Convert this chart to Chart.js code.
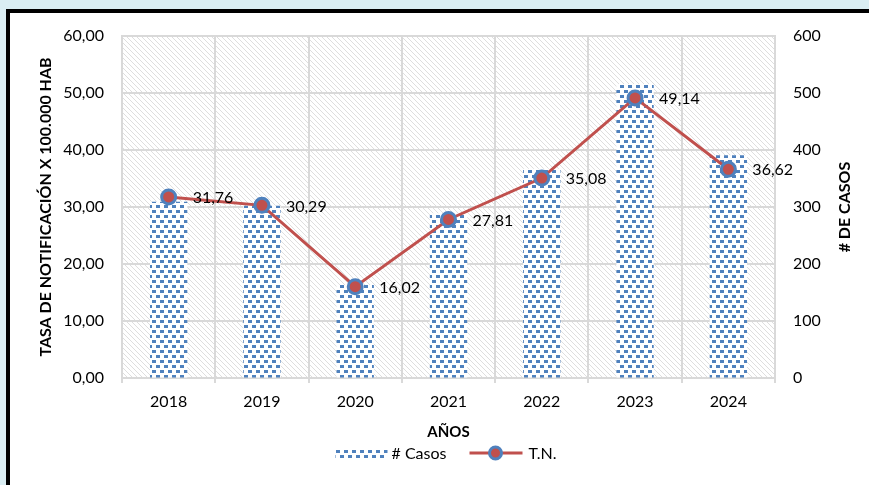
<!DOCTYPE html>
<html>
<head>
<meta charset="utf-8">
<script src="https://cdn.jsdelivr.net/npm/chart.js@4.4.0/dist/chart.umd.min.js"></script>
<style>
  html, body { margin: 0; padding: 0; width: 869px; height: 485px; overflow: hidden; background: #DAEEF3; }
  #frame { position: absolute; left: 6px; top: 9px; width: 900px; height: 520px; border: 4px solid #000; background: #fff; }
  canvas { position: absolute; left: 0; top: 0; }
</style>
</head>
<body>
<div id="frame"></div>
<canvas id="chart" width="869" height="485"></canvas>
<script>
// Data
const years = ['2018', '2019', '2020', '2021', '2022', '2023', '2024']
const casos = [309, 302, 163, 289, 367, 516, 391]
const tasa = [31.76, 30.29, 16.02, 27.81, 35.08, 49.14, 36.62]
const tasaTicks = [0, 10, 20, 30, 40, 50, 60]
const casosTicks = [0, 100, 200, 300, 400, 500, 600]

const BLUE = '#4F81BD'
const RED = '#C0504D'
const GRID = '#D9D9D9'
const FONT = 'Lato, "Open Sans", sans-serif'

// Excel-like fill patterns
function makeTile(w, h, draw) {
    const c = document.createElement('canvas')
    c.width = w
    c.height = h
    draw(c.getContext('2d'))
    return c
}

const hatchTile = makeTile(5, 5, g => {
    g.fillStyle = '#fff'
    g.fillRect(0, 0, 5, 5)
    g.fillStyle = '#DEDEDE'
    for (let i = 0; i < 5; i++) g.fillRect(i, i, 1, 1)
})

const dotsTile = makeTile(8, 10, g => {
    g.fillStyle = '#fff'
    g.fillRect(0, 0, 8, 10)
    g.fillStyle = BLUE
    g.fillRect(0, 0, 4, 3)
    g.fillRect(4, 5, 4, 3)
})

const ctx = document.getElementById('chart').getContext('2d')
const hatch = ctx.createPattern(hatchTile, 'repeat')
const dots = ctx.createPattern(dotsTile, 'repeat')

const fmt2 = v => v.toFixed(2).replace('.', ',')

new Chart(ctx, {
    data: {
        labels: years,
        datasets: [{
                type: 'line',
                label: 'T.N.',
                data: tasa,
                yAxisID: 'y',
                order: 0,
                borderColor: RED,
                borderWidth: 3,
                pointRadius: 7,
                pointHoverRadius: 7,
                pointBackgroundColor: RED,
                pointBorderColor: BLUE,
                pointBorderWidth: 3,
                tension: 0
            },
            {
                type: 'bar',
                label: '# Casos',
                data: casos,
                yAxisID: 'y1',
                order: 1,
                backgroundColor: dots,
                borderWidth: 0,
                categoryPercentage: 1,
                barPercentage: 0.4
            }
        ]
    },
    options: {
        responsive: false,
        animation: false,
        layout: { padding: { top: 36, left: 0, right: 0, bottom: 37 } },
        plugins: {
            legend: { display: false },
            tooltip: { enabled: false }
        },
        scales: {
            x: {
                grid: { color: GRID, lineWidth: 2, drawTicks: true, tickLength: 5, tickColor: GRID },
                border: { color: GRID, width: 2 },
                ticks: { color: '#000', font: { family: FONT, size: 16 }, padding: 9 },
                title: { display: true, text: 'AÑOS', color: '#000', font: { family: FONT, size: 15, weight: 'bold' }, padding: { top: 0, bottom: 7 } },
                afterFit: s => { s.height = 70 }
            },
            y: {
                position: 'left',
                min: 0,
                max: 60,
                afterBuildTicks: s => { s.ticks = tasaTicks.map(v => ({ value: v })) },
                grid: { color: GRID, lineWidth: 2, drawTicks: false },
                border: { color: GRID, width: 2 },
                ticks: { color: '#000', font: { family: FONT, size: 16 }, padding: 18, callback: v => fmt2(v) },
                title: { display: true, text: 'TASA DE NOTIFICACIÓN X 100.000 HAB', color: '#000', font: { family: FONT, size: 16, weight: 'bold' }, padding: { top: 36, bottom: 0 } },
                afterFit: s => { s.width = 122 }
            },
            y1: {
                position: 'right',
                min: 0,
                max: 600,
                afterBuildTicks: s => { s.ticks = casosTicks.map(v => ({ value: v })) },
                grid: { drawOnChartArea: false, drawTicks: false },
                border: { color: GRID, width: 2 },
                ticks: { color: '#000', font: { family: FONT, size: 16 }, padding: 18 },
                afterFit: s => { s.width = 94 }
            }
        }
    },
    plugins: [{
            id: 'plotHatch',
            beforeDraw(chart) {
                const { ctx, chartArea: a } = chart
                ctx.save()
                ctx.fillStyle = hatch
                ctx.fillRect(a.left, a.top, a.right - a.left, a.bottom - a.top)
                ctx.restore()
            }
        },
        {
            id: 'valueLabels',
            afterDatasetsDraw(chart) {
                const { ctx } = chart
                const meta = chart.getDatasetMeta(0)
                ctx.save()
                ctx.fillStyle = '#000'
                ctx.font = `16px ${FONT}`
                ctx.textAlign = 'left'
                ctx.textBaseline = 'middle'
                meta.data.forEach((pt, i) => {
                    ctx.fillText(fmt2(tasa[i]), pt.x + 24, pt.y + 1)
                })
                ctx.restore()
            }
        },
        {
            id: 'rightTitleAndLegend',
            afterDraw(chart) {
                const { ctx, chartArea: a } = chart
                ctx.save()
                // right axis title, reading bottom to top
                ctx.fillStyle = '#000'
                ctx.font = `bold 16px ${FONT}`
                ctx.textAlign = 'center'
                ctx.textBaseline = 'middle'
                ctx.translate(845, (a.top + a.bottom) / 2)
                ctx.rotate(-Math.PI / 2)
                ctx.fillText('# DE CASOS', 0, 0)
                ctx.restore()

                // legend
                const cx = (a.left + a.right) / 2
                const y = 453
                ctx.save()
                ctx.fillStyle = dots
                ctx.fillRect(cx - 113, y - 5, 52, 10)
                ctx.fillStyle = '#000'
                ctx.font = `16px ${FONT}`
                ctx.textBaseline = 'middle'
                ctx.textAlign = 'left'
                ctx.fillText('# Casos', cx - 57, y + 1)
                ctx.strokeStyle = RED
                ctx.lineWidth = 3
                ctx.beginPath()
                ctx.moveTo(cx + 21, y)
                ctx.lineTo(cx + 74, y)
                ctx.stroke()
                ctx.beginPath()
                ctx.arc(cx + 47, y, 6, 0, Math.PI * 2)
                ctx.fillStyle = RED
                ctx.fill()
                ctx.lineWidth = 3
                ctx.strokeStyle = BLUE
                ctx.stroke()
                ctx.fillStyle = '#000'
                ctx.fillText('T.N.', cx + 80, y + 1)
                ctx.restore()
            }
        }
    ]
})
</script>
</body>
</html>
